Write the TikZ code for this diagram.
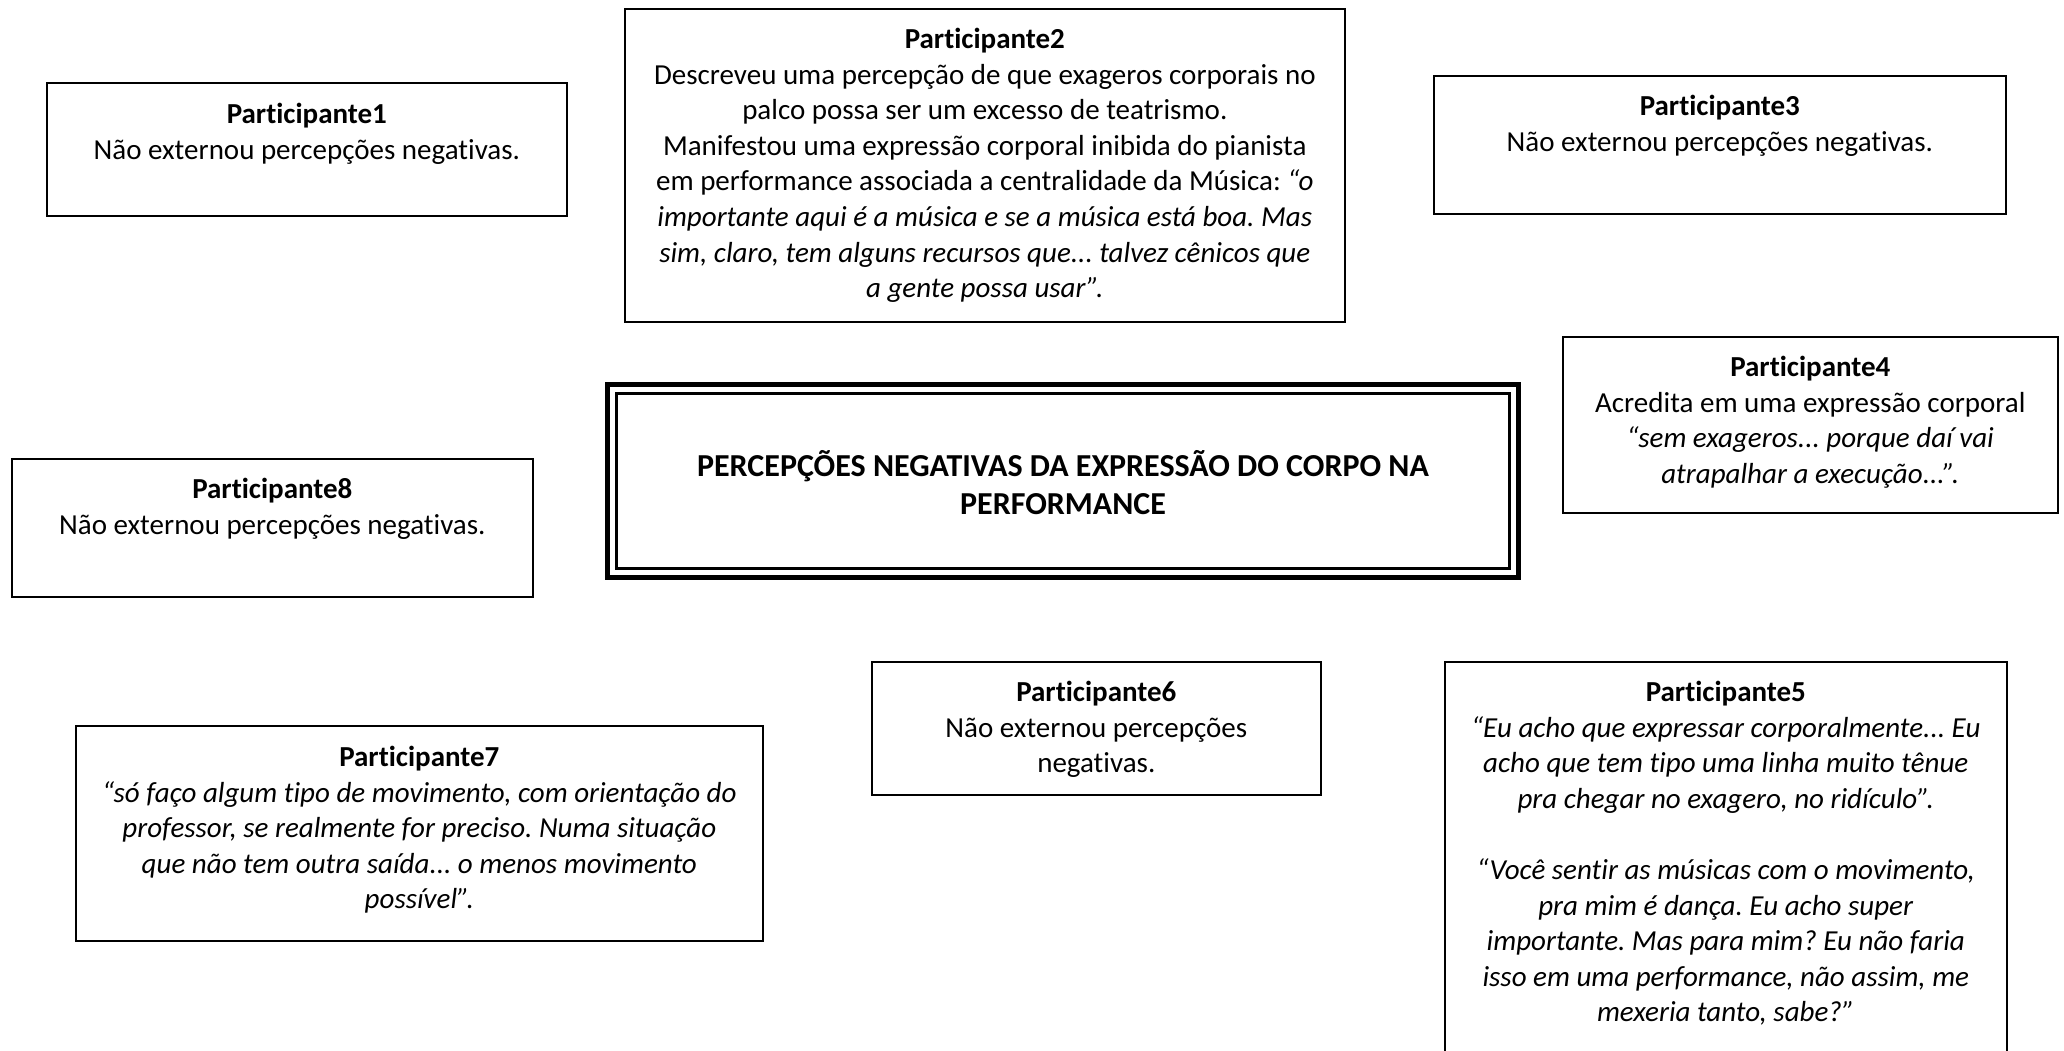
\documentclass[tikz,border=0pt]{standalone}
\usepackage{fontspec}
\setmainfont{Carlito}[Ligatures={NoCommon}]
\frenchspacing
\begin{document}
\begin{tikzpicture}[x=1pt,y=-1pt,
  box/.style={draw=black, line width=1.6pt, inner sep=0pt, anchor=north west},
  txt/.style={align=center, inner sep=0pt, anchor=north, font=\fontsize{29}{35.6}\selectfont},
]
\useasboundingbox (0,0) rectangle (2064,1051);
\clip (0,0) rectangle (2064,1051);

% Participante 1
\node[box, minimum width=520pt, minimum height=133pt] (b1) at (46,82) {};
\node[txt] (t1) at ([yshift=-21pt]b1.north) {\textbf{Participante1}\\Não externou percepções negativas.};

% Participante 2
\node[box, minimum width=720pt, minimum height=313pt] (b2) at (624,8) {};
\node[txt] (t2) at ([yshift=-20pt]b2.north) {\textbf{Participante2}\\
Descreveu uma percepção de que exageros corporais no\\
palco possa ser um excesso de teatrismo.\\
Manifestou uma expressão corporal inibida do pianista\\
em performance associada a centralidade da Música: \textit{“o}\\
\textit{importante aqui é a música e se a música está boa. Mas}\\
\textit{sim, claro, tem alguns recursos que... talvez cênicos que}\\
\textit{a gente possa usar”.}};

% Participante 3
\node[box, minimum width=572pt, minimum height=138pt] (b3) at (1433,75) {};
\node[txt] (t3) at ([yshift=-20pt]b3.north) {\textbf{Participante3}\\Não externou percepções negativas.};

% Participante 4
\node[box, minimum width=495pt, minimum height=176pt] (b4) at (1562,336) {};
\node[txt] (t4) at ([yshift=-20pt]b4.north) {\textbf{Participante4}\\
Acredita em uma expressão corporal\\
\textit{“sem exageros... porque daí vai}\\
\textit{atrapalhar a execução...”.}};

% Central box
\node[draw=black, line width=5pt, inner sep=0pt, anchor=north west,
      minimum width=911pt, minimum height=193pt] (c) at (605,382) {};
\node[draw=black, line width=3pt, inner sep=0pt,
      minimum width=893pt, minimum height=175pt] (cin) at (c.center) {};
\node[txt, anchor=center, font=\fontsize{32}{38}\selectfont\bfseries] (ct) at ([yshift=-2pt]c.center)
  {PERCEPÇÕES NEGATIVAS DA EXPRESSÃO DO CORPO NA\\PERFORMANCE};

% Participante 8
\node[box, minimum width=521pt, minimum height=138pt] (b8) at (11,458) {};
\node[txt] (t8) at ([yshift=-20pt]b8.north) {\textbf{Participante8}\\Não externou percepções negativas.};

% Participante 6
\node[box, minimum width=449pt, minimum height=133pt] (b6) at (871,661) {};
\node[txt] (t6) at ([yshift=-20pt]b6.north) {\textbf{Participante6}\\Não externou percepções\\negativas.};

% Participante 7
\node[box, minimum width=687pt, minimum height=215pt] (b7) at (75,725) {};
\node[txt] (t7) at ([yshift=-21pt]b7.north) {\textbf{Participante7}\\
\textit{“só faço algum tipo de movimento, com orientação do}\\
\textit{professor, se realmente for preciso. Numa situação}\\
\textit{que não tem outra saída... o menos movimento}\\
\textit{possível”.}};

% Participante 5
\node[box, minimum width=562pt, minimum height=420pt] (b5) at (1444,661) {};
\node[txt] (t5) at ([yshift=-20pt]b5.north) {\textbf{Participante5}\\
\textit{“Eu acho que expressar corporalmente... Eu}\\
\textit{acho que tem tipo uma linha muito tênue}\\
\textit{pra chegar no exagero, no ridículo”.}\\
~\\
\textit{“Você sentir as músicas com o movimento,}\\
\textit{pra mim é dança. Eu acho super}\\
\textit{importante. Mas para mim? Eu não faria}\\
\textit{isso em uma performance, não assim, me}\\
\textit{mexeria tanto, sabe?”}};
\end{tikzpicture}
\end{document}
